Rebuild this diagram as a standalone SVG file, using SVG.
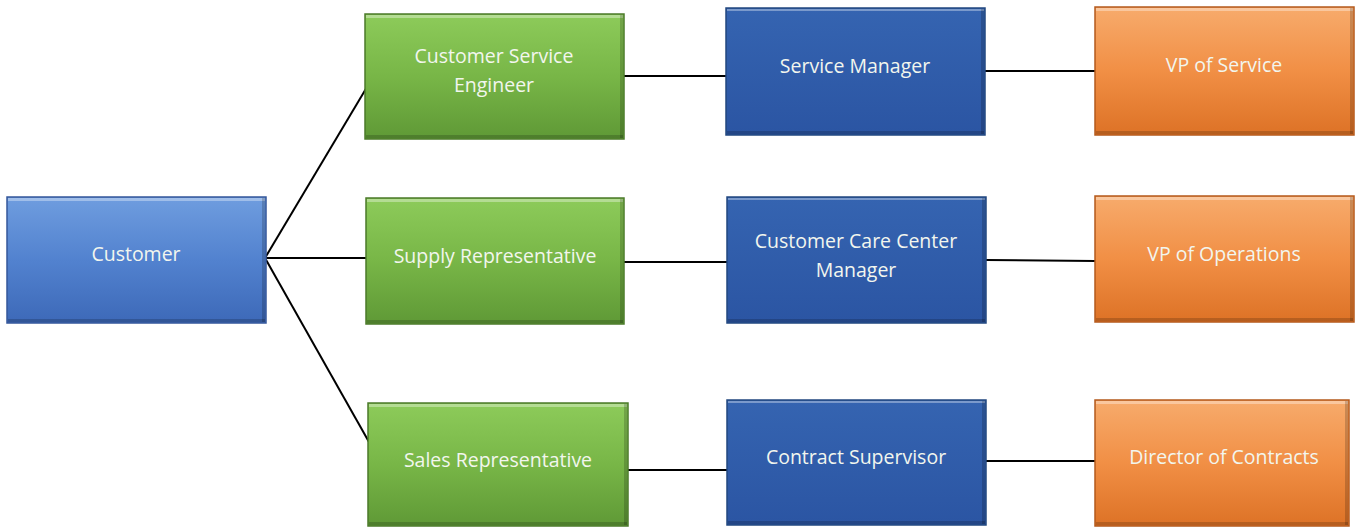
<svg xmlns="http://www.w3.org/2000/svg" width="1359" height="527" viewBox="0 0 1359 527">
<defs>
<linearGradient id="gCust" x1="0" y1="0" x2="0" y2="1">
<stop offset="0" stop-color="#6f9ddf"/><stop offset="0.5" stop-color="#5282cf"/><stop offset="1" stop-color="#3d69b8"/>
</linearGradient>
<linearGradient id="gBlue" x1="0" y1="0" x2="0" y2="1">
<stop offset="0" stop-color="#3564b1"/><stop offset="1" stop-color="#2b55a3"/>
</linearGradient>
<linearGradient id="gGreen" x1="0" y1="0" x2="0" y2="1">
<stop offset="0" stop-color="#8dcb5a"/><stop offset="0.5" stop-color="#78b647"/><stop offset="1" stop-color="#5f9936"/>
</linearGradient>
<linearGradient id="gOrange" x1="0" y1="0" x2="0" y2="1">
<stop offset="0" stop-color="#f7ab6c"/><stop offset="0.5" stop-color="#f18f45"/><stop offset="1" stop-color="#dd7226"/>
</linearGradient>
</defs>
<style>
.box{stroke-width:1.5}
.cust{fill:url(#gCust);stroke:#34579a}
.blue{fill:url(#gBlue);stroke:#22477f}
.green{fill:url(#gGreen);stroke:#4b7a2a}
.orange{fill:url(#gOrange);stroke:#b45a1c}
.hl{fill:#ffffff;opacity:0.35}
.sh{fill:#000000;opacity:0.18}
.t{font-family:"Open Sans","Liberation Sans",sans-serif;font-size:19.5px;fill:#f2f6ee;text-anchor:middle}
.c{stroke:#000;stroke-width:2;fill:none}
</style>
<g id="connectors">
<line class="c" x1="265" y1="258" x2="367" y2="87"/>
<line class="c" x1="265" y1="258" x2="367" y2="258"/>
<line class="c" x1="265" y1="258" x2="369" y2="442"/>
<line class="c" x1="624" y1="76" x2="726" y2="76"/>
<line class="c" x1="985" y1="71" x2="1095" y2="71"/>
<line class="c" x1="624" y1="262" x2="727" y2="262"/>
<line class="c" x1="986" y1="260" x2="1095" y2="261"/>
<line class="c" x1="628" y1="470" x2="727" y2="470"/>
<line class="c" x1="986" y1="461" x2="1095" y2="461"/>
</g>
<g id="customer">
<rect class="box cust" x="7" y="197" width="259" height="126"/>
<rect class="hl" x="8" y="198" width="257" height="3"/>
<rect class="sh" x="262" y="198" width="3" height="124"/>
<rect class="sh" x="8" y="319" width="257" height="3"/>
<text class="t" x="136" y="261">Customer</text>
</g>
<g id="cse">
<rect class="box green" x="365" y="14" width="259" height="125"/>
<rect class="hl" x="366" y="15" width="257" height="3"/>
<rect class="sh" x="620" y="15" width="3" height="123"/>
<rect class="sh" x="366" y="135" width="257" height="3"/>
<text class="t" x="494" y="63">Customer Service</text>
<text class="t" x="494" y="92">Engineer</text>
</g>
<g id="supply">
<rect class="box green" x="366" y="198" width="258" height="126"/>
<rect class="hl" x="367" y="199" width="256" height="3"/>
<rect class="sh" x="620" y="199" width="3" height="124"/>
<rect class="sh" x="367" y="320" width="256" height="3"/>
<text class="t" x="495" y="263">Supply Representative</text>
</g>
<g id="sales">
<rect class="box green" x="368" y="403" width="260" height="123"/>
<rect class="hl" x="369" y="404" width="258" height="3"/>
<rect class="sh" x="624" y="404" width="3" height="121"/>
<rect class="sh" x="369" y="522" width="258" height="3"/>
<text class="t" x="498" y="467">Sales Representative</text>
</g>
<g id="service-manager">
<rect class="box blue" x="726" y="8" width="259" height="127"/>
<rect class="hl" x="727" y="9" width="257" height="2"/>
<rect class="sh" x="981" y="9" width="3" height="125"/>
<rect class="sh" x="727" y="131" width="257" height="3"/>
<text class="t" x="855" y="73">Service Manager</text>
</g>
<g id="cccm">
<rect class="box blue" x="727" y="197" width="259" height="126"/>
<rect class="hl" x="728" y="198" width="257" height="2"/>
<rect class="sh" x="982" y="198" width="3" height="124"/>
<rect class="sh" x="728" y="319" width="257" height="3"/>
<text class="t" x="856" y="248">Customer Care Center</text>
<text class="t" x="856" y="277">Manager</text>
</g>
<g id="contract-supervisor">
<rect class="box blue" x="727" y="400" width="259" height="125"/>
<rect class="hl" x="728" y="401" width="257" height="2"/>
<rect class="sh" x="982" y="401" width="3" height="123"/>
<rect class="sh" x="728" y="521" width="257" height="3"/>
<text class="t" x="856" y="464">Contract Supervisor</text>
</g>
<g id="vp-service">
<rect class="box orange" x="1095" y="7" width="259" height="128"/>
<rect class="hl" x="1096" y="8" width="257" height="3"/>
<rect class="sh" x="1350" y="8" width="3" height="126"/>
<rect class="sh" x="1096" y="131" width="257" height="3"/>
<text class="t" x="1224" y="72">VP of Service</text>
</g>
<g id="vp-operations">
<rect class="box orange" x="1095" y="196" width="259" height="126"/>
<rect class="hl" x="1096" y="197" width="257" height="3"/>
<rect class="sh" x="1350" y="197" width="3" height="124"/>
<rect class="sh" x="1096" y="318" width="257" height="3"/>
<text class="t" x="1224" y="261">VP of Operations</text>
</g>
<g id="director-contracts">
<rect class="box orange" x="1095" y="400" width="254" height="126"/>
<rect class="hl" x="1096" y="401" width="252" height="3"/>
<rect class="sh" x="1345" y="401" width="3" height="124"/>
<rect class="sh" x="1096" y="522" width="252" height="3"/>
<text class="t" x="1224" y="464">Director of Contracts</text>
</g>
</svg>
